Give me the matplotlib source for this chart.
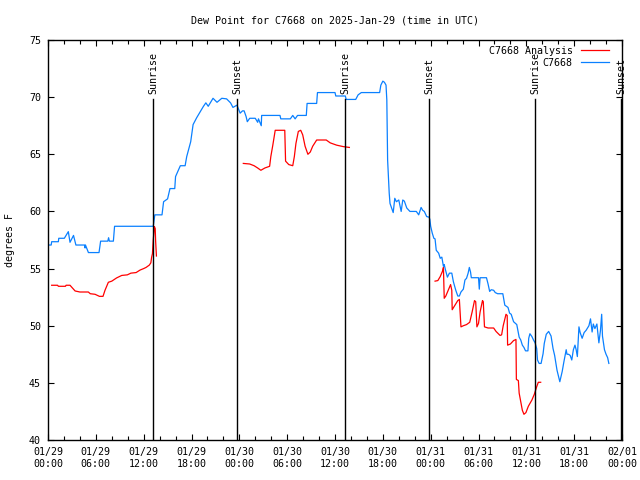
import numpy as np
import pandas as pd
import matplotlib
matplotlib.use("Agg")
import matplotlib.pyplot as plt
import matplotlib.dates as mdates

# Hours after 2025-01-29 00:00 UTC, dew point in degrees F
obs_hours = [0.0, 0.4, 0.46, 1.3, 1.35, 2.05, 2.55, 2.76, 3.2, 3.5, 4.6, 4.65, 4.7, 5.07, 6.4,
             6.6, 7.5, 7.6, 7.7, 8.2, 8.35, 13.2, 13.4, 14.3, 14.5, 15.0, 15.3, 15.9, 16.0,
             16.6, 17.2, 17.4, 17.9, 18.2, 18.65, 19.07, 19.5, 19.8, 20.1, 20.7, 21.2, 21.8,
             22.4, 22.9, 23.2, 23.7, 24.1, 24.4, 24.6, 24.85, 25.0, 25.3, 26.0, 26.3, 26.4,
             26.75, 26.8, 29.1, 29.2, 30.4, 30.7, 31.0, 31.3, 32.4, 32.5, 33.7, 33.8, 36.0,
             36.1, 37.3, 37.4, 38.6, 38.9, 39.3, 41.6, 41.75, 42.0, 42.2, 42.4, 42.5, 42.6,
             42.8, 42.9, 43.1, 43.3, 43.5, 43.7, 44.0, 44.3, 44.5, 44.7, 45.0, 45.4, 46.2,
             46.5, 46.8, 47.0, 47.2, 47.5, 47.8, 47.9, 48.0, 48.2, 48.4, 48.55, 48.7, 49.0,
             49.2, 49.4, 49.6, 49.7, 49.85, 50.1, 50.35, 50.65, 50.85, 51.15, 51.4, 51.6,
             51.8, 52.1, 52.3, 52.5, 52.7, 52.85, 53.0, 53.1, 54.0, 54.1, 54.2, 55.0, 55.2,
             55.4, 55.6, 55.9, 56.1, 56.4, 57.05, 57.3, 57.5, 57.7, 57.9, 58.1, 58.4, 58.8,
             59.1, 59.3, 59.5, 59.7, 59.9, 60.2, 60.3, 60.45, 60.7, 60.9, 61.1, 61.3, 61.4,
             61.6, 61.85, 62.1, 62.25, 62.5, 62.8, 63.1, 63.35, 63.55, 63.85, 64.2, 64.5,
             64.7, 65.0, 65.1, 65.3, 65.5, 65.7, 65.9, 66.1, 66.25, 66.4, 66.6, 66.75, 67.0,
             67.25, 67.5, 67.85, 68.05, 68.25, 68.4, 68.6, 68.85, 69.1, 69.3, 69.45, 69.55,
             69.8, 70.0, 70.2, 70.35]
obs_dewpt = [57.06, 57.06, 57.35, 57.35, 57.65, 57.65, 58.23, 57.3, 57.9, 57.06, 57.06, 56.8,
             57.06, 56.4, 56.4, 57.4, 57.4, 57.7, 57.4, 57.4, 58.7, 58.7, 59.7, 59.7, 60.85,
             61.1, 62.0, 62.0, 63.05, 64.0, 64.0, 64.8, 66.1, 67.6, 68.2, 68.7, 69.2, 69.5,
             69.2, 69.9, 69.55, 69.9, 69.85, 69.5, 69.1, 69.3, 68.6, 68.8, 68.8, 68.3, 67.85,
             68.15, 68.15, 67.8, 68.1, 67.5, 68.4, 68.4, 68.1, 68.1, 68.4, 68.1, 68.4, 68.4,
             69.45, 69.45, 70.4, 70.4, 70.1, 70.1, 69.8, 69.8, 70.2, 70.4, 70.4, 71.05, 71.4,
             71.3, 71.05, 69.75, 64.5, 61.6, 60.7, 60.3, 59.9, 61.15, 60.85, 61.0, 60.0, 61.0,
             60.9, 60.3, 60.0, 60.0, 59.7, 60.35, 60.1, 60.0, 59.55, 59.5, 59.3, 58.7, 58.1,
             57.65, 57.6, 56.6, 56.35, 55.9, 56.0, 55.2, 55.35, 54.9, 54.25, 54.6, 54.6, 53.85,
             53.1, 52.6, 52.6, 52.95, 53.2, 54.0, 54.15, 54.6, 55.1, 54.7, 54.2, 54.2, 53.2,
             54.2, 54.2, 53.65, 53.0, 53.15, 53.1, 52.9, 52.8, 52.8, 51.8, 51.7, 51.6, 51.1,
             51.0, 50.35, 50.1, 49.0, 48.75, 48.3, 48.1, 47.8, 47.8, 48.9, 49.3, 49.05, 48.75,
             48.5, 48.0, 47.0, 46.7, 46.7, 47.55, 48.45, 49.25, 49.5, 49.1, 48.0, 47.4, 46.1,
             45.1, 46.0, 46.8, 47.9, 47.5, 47.5, 47.4, 47.0, 47.9, 48.3, 47.9, 47.3, 49.9,
             49.4, 48.9, 49.4, 49.6, 50.0, 50.6, 49.45, 50.15, 49.75, 50.15, 48.5, 49.6, 51.0,
             49.1, 47.9, 47.5, 47.2, 46.7]

# Analysis series, NaN marks a gap
ana_hours = [0.46, 1.2, 1.3, 2.2, 2.26, 2.76, 3.4, 4.0, 5.06, 5.3, 5.9, 6.45, 6.9, 7.15, 7.57,
             8.0, 8.6, 9.25, 9.95, 10.4, 11.05, 11.55, 12.0, 12.3, 12.7, 12.9, 13.0, 13.1,
             13.2, 13.35, 13.45, 13.5, 13.6, np.nan,
             24.5, 25.3, 25.85, 26.3, 26.7, 27.2, 27.8, 27.95, 28.2, 28.5, 29.7, 29.8, 30.2,
             30.7, 30.9, 31.1, 31.4, 31.7, 31.95, 32.25, 32.6, 32.9, 33.2, 33.7, 34.9, 35.4,
             36.2, 37.05, 37.8, np.nan,
             48.55, 48.9, 49.2, 49.5, 49.6, 49.7, 49.9, 50.2, 50.5, 50.65, 50.7, 51.05, 51.4,
             51.6, 51.8, 52.1, 52.5, 52.9, 53.2, 53.5, 53.65, 53.8, 54.0, 54.2, 54.5, 54.6,
             54.75, 55.2, 55.9, 56.2, 56.7, 56.9, 57.1, 57.45, 57.6, 57.65, 58.0, 58.4, 58.7,
             58.75, 59.0, 59.1, 59.3, 59.5, 59.7, 59.95, 60.25, 60.7, 61.0, 61.3, 61.5, 61.8]
ana_dewpt = [53.54, 53.54, 53.45, 53.45, 53.54, 53.54, 53.04, 52.95, 52.95, 52.8, 52.75, 52.57,
             52.57, 53.1, 53.8, 53.9, 54.18, 54.4, 54.45, 54.6, 54.65, 54.87, 55.0, 55.1,
             55.3, 55.5, 56.0, 56.3, 57.5, 58.67, 58.5, 57.4, 56.1, np.nan,
             64.2, 64.15, 64.0, 63.8, 63.6, 63.8, 63.95, 64.8, 65.8, 67.1, 67.1, 64.4, 64.1,
             64.0, 64.8, 65.95, 67.0, 67.1, 66.7, 65.7, 65.0, 65.2, 65.7, 66.25, 66.25, 66.0,
             65.8, 65.67, 65.6, np.nan,
             53.9, 53.95, 54.3, 54.8, 55.1, 52.4, 52.6, 53.1, 53.6, 53.1, 51.4, 51.8, 52.2,
             52.3, 49.9, 50.0, 50.1, 50.3, 51.2, 52.2, 52.1, 49.9, 50.2, 51.2, 52.2, 52.1,
             49.9, 49.8, 49.8, 49.5, 49.15, 49.2, 50.0, 51.0, 50.9, 48.3, 48.4, 48.7, 48.8,
             45.3, 45.2, 44.1, 43.35, 42.6, 42.25, 42.4, 42.95, 43.5, 44.0, 44.66, 45.05, 45.05]

sun_hours = [13.17, 23.71, 37.26, 47.8, 61.1, 71.9]
sun_labels = ["Sunrise", "Sunset", "Sunrise", "Sunset", "Sunrise", "Sunset"]

start = pd.Timestamp("2025-01-29 00:00")


def to_time(hours):
    return start + pd.to_timedelta(np.asarray(hours, dtype=float), unit="h")


plt.rcParams["font.family"] = ["DejaVu Sans Mono"]
plt.rcParams["font.size"] = 7.2

fig = plt.figure(figsize=(6.4, 4.8), dpi=100)
ax = fig.add_axes([48 / 640, 1 - 440 / 480, 574 / 640, 400 / 480])

ax.plot(to_time(ana_hours), ana_dewpt, color="#ff0000", lw=0.9, label="C7668 Analysis")
ax.plot(to_time(obs_hours), obs_dewpt, color="#0a80ff", lw=0.9, label="C7668")

for h, lab in zip(sun_hours, sun_labels):
    t = to_time([h])[0]
    ax.plot([t, t], [40, 69.8], color="black", lw=1.0)
    ax.text(t, 70.3, lab, rotation=90, ha="center", va="bottom", fontsize=7.2)

ax.set_xlim(start, start + pd.Timedelta(hours=72))
ax.set_ylim(40, 75)
ax.set_yticks(np.arange(40, 76, 5))
ax.xaxis.set_major_locator(mdates.HourLocator(byhour=[0, 6, 12, 18]))
ax.xaxis.set_minor_locator(mdates.HourLocator(byhour=range(0, 24, 2)))
ax.xaxis.set_major_formatter(mdates.DateFormatter("%m/%d\n%H:%M"))
ax.tick_params(which="both", direction="in", top=True, right=True, width=0.8)
ax.tick_params(which="major", length=4, pad=5)
ax.tick_params(which="minor", length=3)
for s in ax.spines.values():
    s.set_linewidth(1.0)

ax.set_ylabel("degrees F", labelpad=10)
ax.set_title("Dew Point for C7668 on 2025-Jan-29 (time in UTC)", fontsize=7.2, pad=12)

ax.legend(loc="upper right", bbox_to_anchor=(0.977, 0.985), frameon=False,
          markerfirst=False, handlelength=2.8, handletextpad=0.8,
          borderpad=0, borderaxespad=0, labelspacing=0.2, fontsize=7.2)

fig.savefig("out.png", dpi=100)
